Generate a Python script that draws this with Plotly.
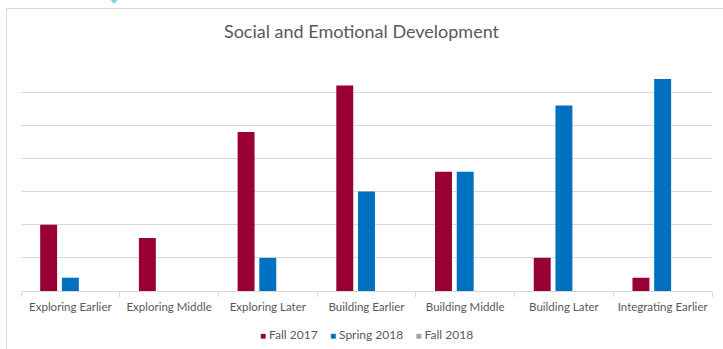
import plotly.graph_objects as go

# Category labels and scores per assessment period
categories = [
    "Exploring Earlier", "Exploring Middle", "Exploring Later",
    "Building Earlier", "Building Middle", "Building Later",
    "Integrating Earlier",
]
fall_2017 = [10, 8, 24, 31, 18, 5, 2]
spring_2018 = [2, 0, 5, 15, 18, 28, 32]
fall_2018 = [None, None, None, None, None, None, None]

series_names = ["Fall 2017", "Spring 2018", "Fall 2018"]
series_colors = ["#990033", "#0070C0", "#A5A5A5"]

TEXT = "#595959"
GRID = "#D9D9D9"
FONT = "Lato, 'Open Sans', sans-serif"

# plot area geometry in pixels (used to place frame/legend in paper units)
PL, PR, PT, PB = 21, 711.7, 59, 291


def px_x(v):
    return (v - PL) / (PR - PL)


def px_y(v):
    return (PB - v) / (PB - PT)


fig = go.Figure()
for name, vals, color in zip(series_names, [fall_2017, spring_2018, fall_2018], series_colors):
    fig.add_trace(go.Bar(
        x=categories, y=vals, name=name,
        marker=dict(color=color, line=dict(width=0)),
        hoverinfo="x+y+name",
    ))

# Compact legend row: coloured square followed by the series name
legend_text = "&nbsp;&nbsp;&nbsp;&nbsp;".join(
    f'<span style="color:{c}; font-size:10px">■</span>&nbsp;{n}'
    for n, c in zip(series_names, series_colors)
)

fig.update_layout(
    width=723, height=349,
    margin=dict(l=PL, r=723 - PR, t=PT, b=349 - PB),
    paper_bgcolor="white", plot_bgcolor="white",
    barmode="group", bargap=0.34, bargroupgap=0.22,
    font=dict(family=FONT, color=TEXT, size=12),
    title=dict(
        text="Social and Emotional Development",
        x=0.5, xanchor="center", y=1 - 32 / 349, yanchor="middle",
        font=dict(family=FONT, size=18, color=TEXT),
    ),
    showlegend=False,
    annotations=[
        dict(text=legend_text, xref="paper", yref="paper",
             x=0.5, xanchor="center", y=px_y(334), yanchor="middle",
             showarrow=False, font=dict(family=FONT, size=12, color=TEXT)),
    ],
    xaxis=dict(
        type="category", tickson="boundaries", ticks="outside", ticklen=5,
        tickcolor=GRID, showline=True, linecolor=GRID, linewidth=1,
        tickangle=0, automargin=False, ticklabelstandoff=5,
        tickfont=dict(family=FONT, size=11.5, color=TEXT),
        showgrid=False, fixedrange=True,
    ),
    yaxis=dict(
        range=[0, 35], dtick=5, showticklabels=False, ticks="",
        showgrid=True, gridcolor=GRID, gridwidth=1, automargin=False,
        zeroline=False, showline=False, fixedrange=True,
    ),
    shapes=[
        # outer chart frame
        dict(type="rect", xref="paper", yref="paper",
             x0=px_x(6.5), x1=px_x(740), y0=px_y(380), y1=px_y(8.5),
             line=dict(color=GRID, width=1), fillcolor="rgba(0,0,0,0)", layer="below"),
        # small selection marker above the frame
        dict(type="path", xref="paper", yref="paper",
             path=f"M {px_x(110.5)} {px_y(0)} L {px_x(117.5)} {px_y(0)} L {px_x(114)} {px_y(4)} Z",
             line=dict(width=0), fillcolor="#7FD6E2"),
    ],
)

fig.write_html("out.html")
